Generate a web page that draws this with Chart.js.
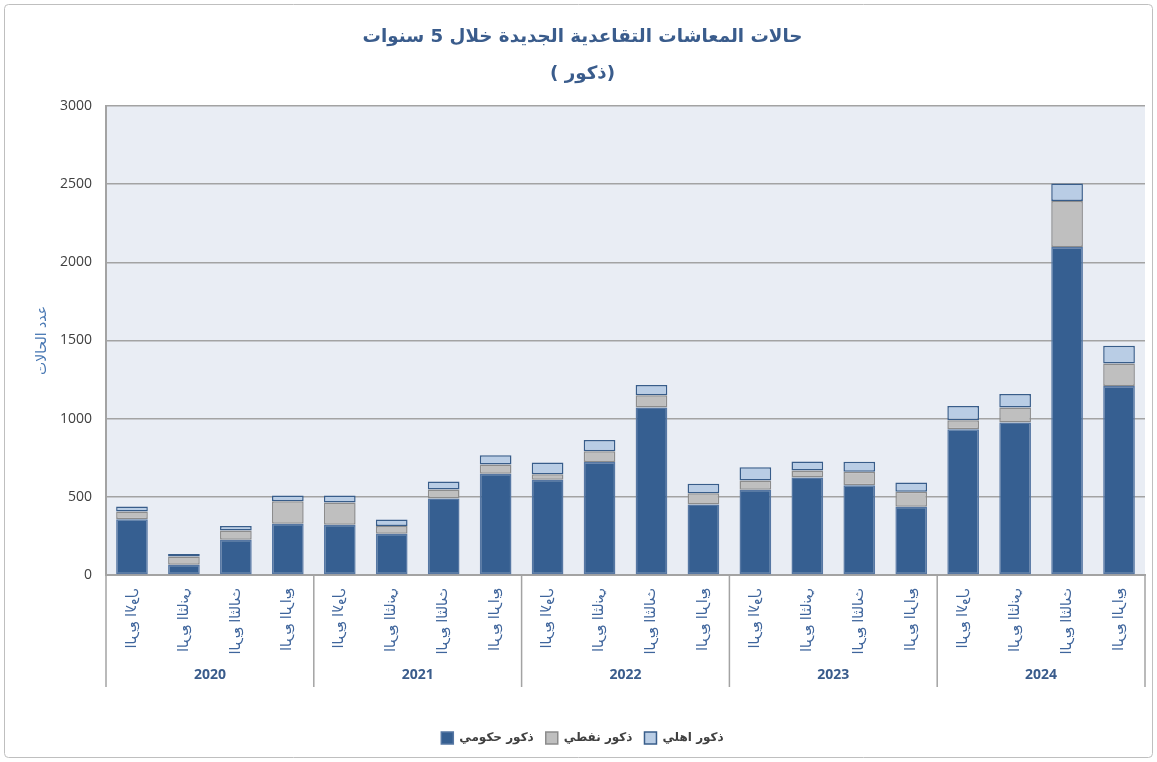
<!DOCTYPE html>
<html lang="ar">
<head>
<meta charset="utf-8">
<title>حالات المعاشات التقاعدية الجديدة خلال 5 سنوات</title>
<script src="https://cdn.jsdelivr.net/npm/chart.js@4/dist/chart.umd.min.js"></script>
<style>
    body { margin: 0; background: #ffffff; }
    #chart-box { width: 1157px; height: 762px; }
</style>
</head>
<body>
<div id="chart-box"><canvas id="bar-chart" dir="rtl" width="1157" height="762"></canvas></div>
<script>
// years and quarters on the x axis
var years = ['2020', '2021', '2022', '2023', '2024'];
var quarters = ['الربع الاول', 'الربع الثاني', 'الربع الثالث', 'الربع الرابع'];

// series values (one per quarter, 2020 Q1 -> 2024 Q4)
var gov_values = [357, 66, 225, 328, 321, 264, 489, 647, 609, 723, 1072, 451, 545, 623, 574, 436, 932, 975, 2098, 1208];
var oil_values = [49, 53, 60, 144, 143, 49, 58, 59, 36, 68, 77, 72, 59, 45, 86, 96, 57, 97, 294, 145];
var private_values = [32, 15, 28, 37, 45, 42, 51, 60, 74, 73, 66, 60, 85, 58, 64, 60, 92, 85, 112, 113];

// series names
var series_names = ['ذكور حكومي', 'ذكور نفطي', 'ذكور اهلي'];

// y axis ticks
var y_min = 0;
var y_max = 3000;
var y_step = 500;

var grid_color = '#A3A3A3';
var label_color = '#3F659C';
var title_color = '#3A5C8C';

// build one label per bar: quarter + year
function getLabels() {
    var labels = [];
    for (var i = 0; i < years.length; i++) {
        for (var j = 0; j < quarters.length; j++) {
            labels.push([quarters[j], years[i]]);
        }
    }
    return labels;
}

// plugin that paints the outer frame and the plot background
var backgroundPlugin = {
    id: 'backgroundPlugin',
    beforeDraw: function(chart) {
        var ctx = chart.ctx;
        var area = chart.chartArea;
        ctx.save();
        // outer frame
        ctx.strokeStyle = '#BFBFBF';
        ctx.lineWidth = 1;
        ctx.beginPath();
        ctx.roundRect(4.5, 4.5, chart.width - 9, chart.height - 9, 4);
        ctx.stroke();
        // plot area
        ctx.fillStyle = '#E9EDF4';
        ctx.fillRect(area.left, area.top, area.right - area.left, area.bottom - area.top);
        ctx.restore();
    }
};

// plugin that draws the quarter labels, year labels and group separators
var groupAxisPlugin = {
    id: 'groupAxisPlugin',
    afterDraw: function(chart) {
        var ctx = chart.ctx;
        var x_scale = chart.scales.x;
        var bottom = chart.chartArea.bottom;
        var per_year = quarters.length;
        var half = (x_scale.getPixelForValue(1) - x_scale.getPixelForValue(0)) / 2;
        ctx.save();
        // separators between years
        ctx.strokeStyle = grid_color;
        ctx.lineWidth = 1.5;
        for (var g = 0; g <= years.length; g++) {
            var idx = g * per_year;
            var x_sep = (idx < gov_values.length) ? x_scale.getPixelForValue(idx) - half : x_scale.getPixelForValue(idx - 1) + half;
            ctx.beginPath();
            ctx.moveTo(x_sep, bottom);
            ctx.lineTo(x_sep, bottom + 112);
            ctx.stroke();
        }
        // quarter labels, vertical like the original (rotated and flipped)
        ctx.fillStyle = label_color;
        ctx.font = '14px "DejaVu Sans"';
        ctx.textAlign = 'left';
        ctx.textBaseline = 'middle';
        for (var i = 0; i < gov_values.length; i++) {
            var x = x_scale.getPixelForValue(i);
            ctx.save();
            ctx.translate(x, bottom + 13);
            ctx.rotate(Math.PI / 2);
            ctx.scale(1, -1);
            ctx.fillText(quarters[i % per_year], 0, 0);
            ctx.restore();
        }
        // year labels centred under each group
        ctx.fillStyle = title_color;
        ctx.font = 'bold 14px "Open Sans"';
        ctx.textAlign = 'center';
        for (var y = 0; y < years.length; y++) {
            var first = x_scale.getPixelForValue(y * per_year);
            var last = x_scale.getPixelForValue(y * per_year + per_year - 1);
            ctx.fillText(years[y], (first + last) / 2, bottom + 100);
        }
        ctx.restore();
    }
};

// function that prints the stacked bar chart
function printBarChart() {
    var ctx = document.getElementById('bar-chart').getContext('2d');
    var myBarChart = new Chart(ctx, {
        type: 'bar',
        data: {
            labels: getLabels(),
            datasets: [{
                label: series_names[0],
                data: gov_values,
                backgroundColor: '#365F91',
                borderColor: '#5677A3',
                borderWidth: 1.5,
                borderSkipped: false
            }, {
                label: series_names[1],
                data: oil_values,
                backgroundColor: '#BFBFBF',
                borderColor: '#8C8C8C',
                borderWidth: 1.5,
                borderSkipped: false
            }, {
                label: series_names[2],
                data: private_values,
                backgroundColor: '#B9CDE5',
                borderColor: '#385D8A',
                borderWidth: 1.5,
                borderSkipped: false
            }]
        },
        options: {
            responsive: false,
            animation: false,
            barPercentage: 0.61,
            categoryPercentage: 1,
            layout: {
                padding: { top: 10, left: 20, right: 12, bottom: 8 }
            },
            scales: {
                x: {
                    stacked: true,
                    grid: { display: false },
                    border: { display: true, color: grid_color, width: 2 },
                    ticks: { display: false },
                    afterFit: function(scale) {
                        scale.height = 145;
                    }
                },
                y: {
                    stacked: true,
                    min: y_min,
                    max: y_max,
                    ticks: {
                        stepSize: y_step,
                        padding: 14,
                        color: '#404040',
                        font: { family: 'Open Sans', size: 14 },
                        // plain numbers, no thousands separator
                        callback: function(value) {
                            return String(value);
                        }
                    },
                    grid: {
                        color: grid_color,
                        lineWidth: 1.5,
                        drawTicks: false
                    },
                    border: { display: true, color: grid_color, width: 2 },
                    title: {
                        display: true,
                        text: 'عدد الحالات',
                        color: '#4676B2',
                        font: { family: 'DejaVu Sans', size: 14 },
                        padding: { top: 14, bottom: 0 }
                    },
                    afterFit: function(scale) {
                        scale.width = 86;
                    }
                }
            },
            plugins: {
                title: {
                    display: true,
                    // canvas draws right-to-left, so the brackets are written in that order
                    text: ['حالات المعاشات التقاعدية الجديدة خلال 5 سنوات', '(ذكور )'],
                    color: title_color,
                    font: { family: 'DejaVu Sans', size: 18.3, weight: 'bold', lineHeight: 2.02 },
                    padding: { top: 9, bottom: 13 }
                },
                legend: {
                    position: 'bottom',
                    labels: {
                        color: '#404040',
                        boxWidth: 12,
                        boxHeight: 12,
                        padding: 12,
                        font: { family: 'DejaVu Sans', size: 12, weight: 'bold' }
                    }
                },
                tooltip: { enabled: false }
            }
        },
        plugins: [backgroundPlugin, groupAxisPlugin]
    });
}

printBarChart();
</script>
</body>
</html>
